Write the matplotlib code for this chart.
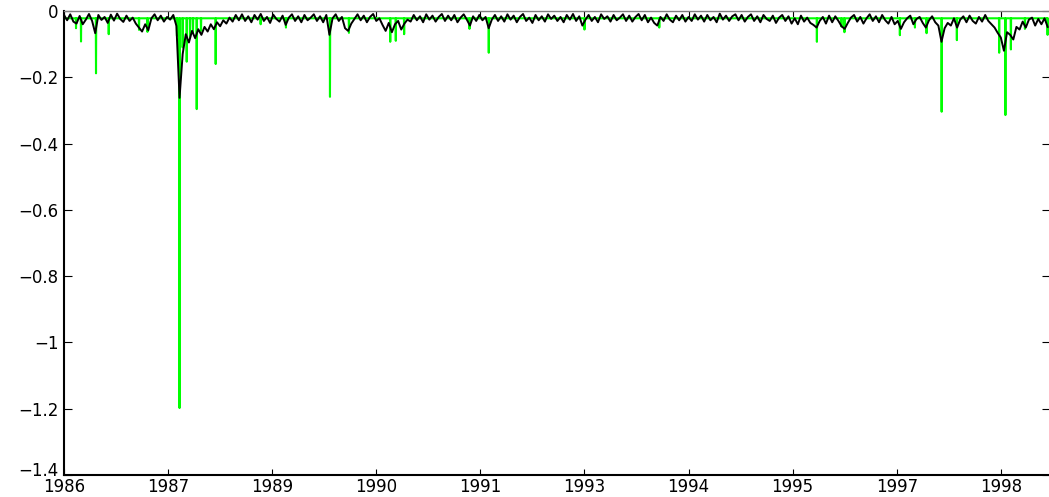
import matplotlib
matplotlib.use('Agg')
import matplotlib.pyplot as plt
import matplotlib.transforms as mtransforms
import numpy as np

# series start (fractional year) and sampling step of the black series
t_start = 1986.5
t_step = 0.04

# black series, magnitudes in thousandths (values are negative)
black_mag = [
  12, 28, 10, 32, 38, 15, 40, 26, 9, 30, 67, 12, 27, 18, 36, 11, 29, 8, 24, 33,
  14, 30, 20, 38, 50, 62, 40, 58, 22, 10, 28, 14, 32, 18, 26, 12, 45, 262, 130, 70,
  95, 60, 82, 55, 72, 48, 62, 40, 55, 34, 46, 28, 38, 20, 32, 12, 28, 10, 30, 16,
  34, 12, 26, 9, 30, 18, 36, 11, 24, 32, 14, 42, 20, 10, 30, 16, 34, 12, 28, 20,
  10, 30, 16, 34, 12, 72, 22, 10, 30, 18, 52, 60, 38, 24, 10, 28, 14, 34, 18, 9,
  30, 22, 42, 60, 36, 64, 40, 30, 56, 38, 26, 32, 12, 28, 16, 34, 10, 26, 14, 32,
  18, 9, 30, 14, 28, 12, 34, 20, 10, 26, 44, 16, 30, 12, 28, 18, 52, 26, 12, 30,
  16, 32, 10, 26, 14, 34, 18, 9, 30, 20, 36, 12, 28, 16, 32, 10, 24, 14, 30, 18,
  34, 12, 26, 9, 30, 16, 44, 26, 12, 30, 18, 34, 10, 24, 16, 32, 12, 28, 20, 10,
  30, 14, 32, 18, 9, 28, 12, 34, 20, 36, 44, 18, 30, 10, 26, 34, 14, 28, 12, 32,
  18, 30, 10, 26, 14, 32, 12, 28, 18, 34, 8, 26, 14, 30, 16, 10, 28, 12, 32, 18,
  10, 30, 16, 34, 12, 24, 30, 14, 36, 20, 12, 30, 16, 38, 22, 40, 14, 32, 20, 36,
  42, 50, 30, 18, 38, 14, 34, 16, 30, 46, 54, 36, 20, 12, 32, 18, 38, 22, 10, 30,
  16, 34, 12, 28, 38, 18, 40, 30, 54, 34, 22, 14, 40, 24, 18, 36, 50, 28, 16, 34,
  44, 93, 52, 36, 44, 22, 50, 26, 16, 34, 14, 30, 38, 18, 32, 12, 30, 40, 50, 66,
  80, 120, 64, 72, 86, 48, 56, 32, 50, 26, 20, 44, 24, 40, 22, 48,
]

# green series: flat level plus downward spikes
green_level = -0.022
green_spike_t = [
  1986.654, 1986.718, 1986.910, 1987.073, 1987.461, 1987.569, 1987.947, 1987.980,
  1988.020, 1988.072, 1988.114, 1988.152, 1988.200, 1988.255, 1988.443, 1989.019,
  1989.343, 1989.907, 1990.150, 1990.679, 1990.750, 1990.857, 1991.694, 1991.941,
  1993.167, 1994.125, 1996.144, 1996.458, 1996.497, 1997.207, 1997.400, 1997.549,
  1997.742, 1997.937, 1998.479, 1998.559, 1998.629, 1998.809, 1999.099,
]
green_spike_v = [
  -0.052, -0.092, -0.188, -0.070, -0.057, -0.063, -0.075, -1.198,
  -0.110, -0.153, -0.080, -0.065, -0.296, -0.060, -0.160, -0.040,
  -0.050, -0.259, -0.066, -0.093, -0.090, -0.070, -0.054, -0.126,
  -0.056, -0.050, -0.093, -0.047, -0.064, -0.073, -0.050, -0.067,
  -0.304, -0.088, -0.126, -0.314, -0.116, -0.054, -0.072,
]

x_end = 1999.13
xtick_labels = ['1986', '1987', '1989', '1990', '1991', '1993', '1994', '1995', '1997', '1998']
ytick_vals = [-1.4, -1.2, -1.0, -0.8, -0.6, -0.4, -0.2, 0.0]
ytick_labels = ['\u22121.4', '\u22121.2', '\u22121', '\u22120.8', '\u22120.6', '\u22120.4', '\u22120.2', '0']


def green_series(t_last):
  # each spike is a one-day excursion from the flat level
  half = 0.003
  gx, gy = [t_start], [green_level]
  for t, v in zip(green_spike_t, green_spike_v):
    gx += [t - half, t, t + half]
    gy += [green_level, v, green_level]
  gx.append(t_last)
  gy.append(green_level)
  return gx, gy


def main():
  black = -np.array(black_mag) / 1000.0
  bx = t_start + t_step * np.arange(len(black))
  gx, gy = green_series(bx[-1])

  fig = plt.figure(figsize=(10.49, 4.97), dpi=100)
  ax = fig.add_axes([64 / 1049, 22 / 497, 986 / 1049, 464 / 497])

  ax.plot(gx, gy, color='#00ff00', lw=1.5)
  ax.plot(bx, black, color='black', lw=1.4)

  ax.set_xlim(t_start, x_end)
  ax.set_ylim(-1.4, 0)

  xticks = t_start + np.arange(len(xtick_labels)) * (4 / 3)
  ax.set_xticks(xticks)
  ax.set_xticklabels(xtick_labels)
  ax.set_yticks(ytick_vals)
  ax.set_yticklabels(ytick_labels)

  ax.tick_params(axis='both', direction='in', top=True, right=True,
                 labelsize=12, colors='black')
  ax.tick_params(axis='x', length=4, pad=2.5)
  ax.tick_params(axis='y', length=6, pad=4)
  for lbl in ax.get_xticklabels() + ax.get_yticklabels():
    lbl.set_family('DejaVu Sans')
  # nudge the lowest y label up a little so it sits above the first year label
  low = ax.get_yticklabels()[0]
  low.set_transform(low.get_transform() + mtransforms.ScaledTranslation(0, 4 / 72, fig.dpi_scale_trans))

  ax.spines['left'].set_linewidth(1.5)
  ax.spines['bottom'].set_linewidth(1.5)
  ax.spines['top'].set_color('#808080')
  ax.spines['top'].set_linewidth(1.0)
  ax.spines['right'].set_color('#808080')

  fig.savefig('out.png', dpi=100)


if __name__ == '__main__':
  main()
